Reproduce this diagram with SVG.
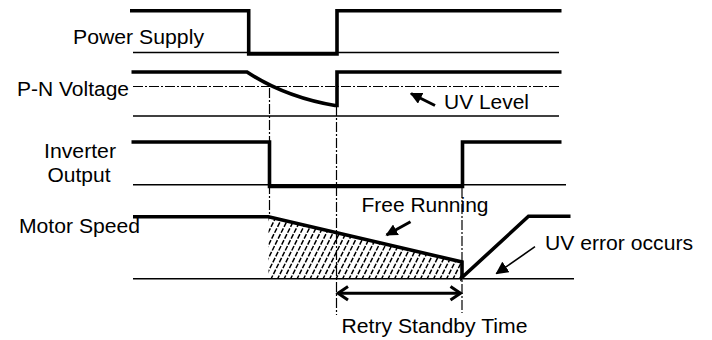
<svg xmlns="http://www.w3.org/2000/svg" width="712" height="340" viewBox="0 0 712 340">
<style>
text{font-family:"Liberation Sans",Arial,sans-serif;font-size:20px;fill:#000}
.sig{fill:none;stroke:#000;stroke-width:3.6;stroke-linejoin:miter}
.base{fill:none;stroke:#000;stroke-width:1.4}
.dd{fill:none;stroke:#000;stroke-width:1.2;stroke-dasharray:10 2 2 2}
.arr{fill:none;stroke:#000;stroke-width:3}
.arrt{fill:none;stroke:#000;stroke-width:1.6}
.hatch{fill:none;stroke:#000;stroke-width:1.5;stroke-dasharray:5 1.6}
</style>
<defs>
<clipPath id="freeArea">
<path d="M268.5,217 L462,262 V278.8 H268.5 Z"/>
</clipPath>
<marker id="head" viewBox="0 0 10 10" refX="9" refY="5" markerWidth="4" markerHeight="4" orient="auto" markerUnits="strokeWidth">
<path d="M0,0 L10,5 L0,10 Z" fill="#000"/>
</marker>
<marker id="headT" viewBox="0 0 10 10" refX="9" refY="5" markerWidth="8" markerHeight="8" orient="auto" markerUnits="strokeWidth">
<path d="M0,0 L10,5 L0,10 Z" fill="#000"/>
</marker>
</defs>

<g id="power-supply">
<text x="73" y="44.3" textLength="131" lengthAdjust="spacingAndGlyphs">Power Supply</text>
<path class="base" d="M133,52.5 H559"/>
<path class="sig" d="M130,10.7 H248.7 V54 H337 V10.7 H561.5"/>
</g>

<g id="pn-voltage">
<text x="17" y="95.5" textLength="112" lengthAdjust="spacingAndGlyphs">P-N Voltage</text>
<path class="base" d="M133,116 H559"/>
<path class="dd" d="M133,86.5 H559"/>
<path class="sig" d="M131.5,72 H247 Q285,97 335,105.5 H337 V72 H561.5"/>
</g>

<g id="uv-level">
<text x="444" y="108.5" textLength="85" lengthAdjust="spacingAndGlyphs">UV Level</text>
</g>

<g id="inverter-output">
<text x="44" y="158.3" textLength="72" lengthAdjust="spacingAndGlyphs">Inverter</text>
<text x="47.5" y="181.5" textLength="63" lengthAdjust="spacingAndGlyphs">Output</text>
<path class="base" d="M133,184.8 H566"/>
<path class="sig" d="M131.5,142 H269.5 V186.5 H462.5 V142 H561.5"/>
</g>

<g id="motor-speed">
<text x="19" y="232.5" textLength="121" lengthAdjust="spacingAndGlyphs">Motor Speed</text>
<g clip-path="url(#freeArea)">
<path class="hatch" d="M238,280 l31,-62 M244.5,280 l31,-62 M251,280 l31,-62 M257.5,280 l31,-62 M264,280 l31,-62 M270.5,280 l31,-62 M277,280 l31,-62 M283.5,280 l31,-62 M290,280 l31,-62 M296.5,280 l31,-62 M303,280 l31,-62 M309.5,280 l31,-62 M316,280 l31,-62 M322.5,280 l31,-62 M329,280 l31,-62 M335.5,280 l31,-62 M342,280 l31,-62 M348.5,280 l31,-62 M355,280 l31,-62 M361.5,280 l31,-62 M368,280 l31,-62 M374.5,280 l31,-62 M381,280 l31,-62 M387.5,280 l31,-62 M394,280 l31,-62 M400.5,280 l31,-62 M407,280 l31,-62 M413.5,280 l31,-62 M420,280 l31,-62 M426.5,280 l31,-62 M433,280 l31,-62 M439.5,280 l31,-62 M446,280 l31,-62 M452.5,280 l31,-62 M459,280 l31,-62"/>
</g>
<path class="base" d="M133,278.8 H574"/>
<path class="sig" d="M133,216.7 H268.5 L462,262 V277.5 L528.5,216.3 H570.5"/>
</g>

<g id="free-running">
<text x="361.5" y="212.3" textLength="127" lengthAdjust="spacingAndGlyphs">Free Running</text>
</g>

<g id="uv-error">
<text x="545" y="250" textLength="148" lengthAdjust="spacingAndGlyphs">UV error occurs</text>
</g>

<g id="retry-standby">
<text x="341.5" y="333" textLength="186" lengthAdjust="spacingAndGlyphs">Retry Standby Time</text>
</g>

<g id="connectors">
<path class="dd" d="M269.5,88 V217"/>
<path class="dd" d="M336.5,106 V315"/>
<path class="dd" d="M462,188 V313"/>
<path class="arr" d="M435,105.5 L411,93.5" marker-end="url(#head)"/>
<path class="arr" d="M410.5,221.7 L386.5,235" marker-end="url(#head)"/>
<path class="arrt" d="M535,246.7 L496.5,273.5" marker-end="url(#headT)"/>
<path class="arr" d="M338,293.3 H460.5"/>
<path class="arr" d="M348,286.5 L338,293.3 L348,300.1"/>
<path class="arr" d="M450.5,286.5 L460.5,293.3 L450.5,300.1"/>
</g>
</svg>
